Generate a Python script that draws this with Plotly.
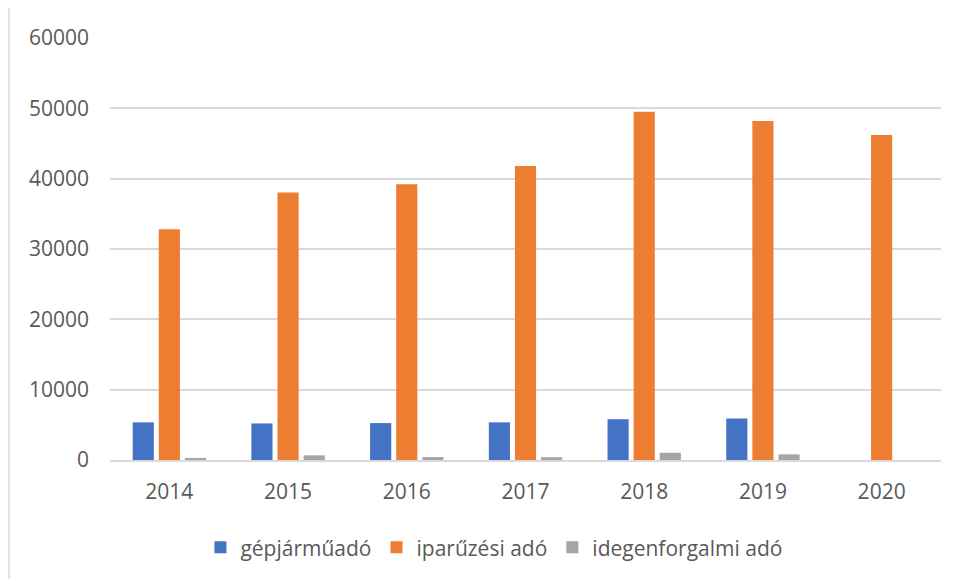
import plotly.graph_objects as go

years = ["2014", "2015", "2016", "2017", "2018", "2019", "2020"]
gepjarmuado = [5350, 5200, 5250, 5350, 5800, 5900, 0]
iparuzesi_ado = [32800, 38050, 39200, 41800, 49500, 48200, 46200]
idegenforgalmi_ado = [300, 660, 420, 400, 1030, 800, 0]

series = [
    ("gépjárműadó", gepjarmuado, "#4472C4"),
    ("iparűzési adó", iparuzesi_ado, "#ED7D31"),
    ("idegenforgalmi adó", idegenforgalmi_ado, "#A5A5A5"),
]

font_family = "Open Sans, Noto Sans, sans-serif"
text_color = "#595959"
grid_color = "#D9D9D9"

fig = go.Figure()
for name, values, color in series:
    fig.add_trace(
        go.Bar(
            x=years,
            y=values,
            name=name,
            marker={"color": color, "line": {"width": 0}},
        )
    )

# page has an 8px body margin; plot area lands at x 110..941, y 38..461
fig.update_layout(
    width=950,
    height=571,
    margin={"l": 102, "r": 17, "t": 30, "b": 118},
    paper_bgcolor="white",
    plot_bgcolor="white",
    barmode="group",
    bargap=0.34,
    bargroupgap=0.19,
    font={"family": font_family, "color": text_color, "size": 21},
    showlegend=True,
    legend={
        "orientation": "h",
        "x": 0.462,
        "xanchor": "center",
        "y": -0.205,
        "yanchor": "middle",
        "font": {"size": 21, "color": text_color},
        "itemwidth": 30,
        "traceorder": "normal",
    },
    xaxis={
        "showgrid": False,
        "showline": True,
        "linecolor": grid_color,
        "linewidth": 1.5,
        "ticks": "",
        "ticklabelstandoff": 12,
        "tickfont": {"size": 21},
    },
    yaxis={
        "range": [0, 60000],
        "tickvals": [0, 10000, 20000, 30000, 40000, 50000, 60000],
        "ticktext": ["0", "10000", "20000", "30000", "40000", "50000", "60000"],
        "showgrid": True,
        "gridcolor": grid_color,
        "gridwidth": 1.5,
        "zeroline": False,
        "showline": False,
        "ticks": "",
        "ticklabelstandoff": 20,
        "tickfont": {"size": 21},
    },
    shapes=[
        {
            "type": "line", "xref": "paper", "yref": "paper",
            "x0": -0.1215, "x1": -0.1215, "y0": 1.0733, "y1": -0.3,
            "line": {"color": grid_color, "width": 1.5},
        },
        {
            "type": "line", "xref": "paper", "yref": "paper",
            "x0": -0.1215, "x1": 1.03, "y0": 1.0733, "y1": 1.0733,
            "line": {"color": grid_color, "width": 1.5},
        },
    ],
)

fig.write_html("out.html")
